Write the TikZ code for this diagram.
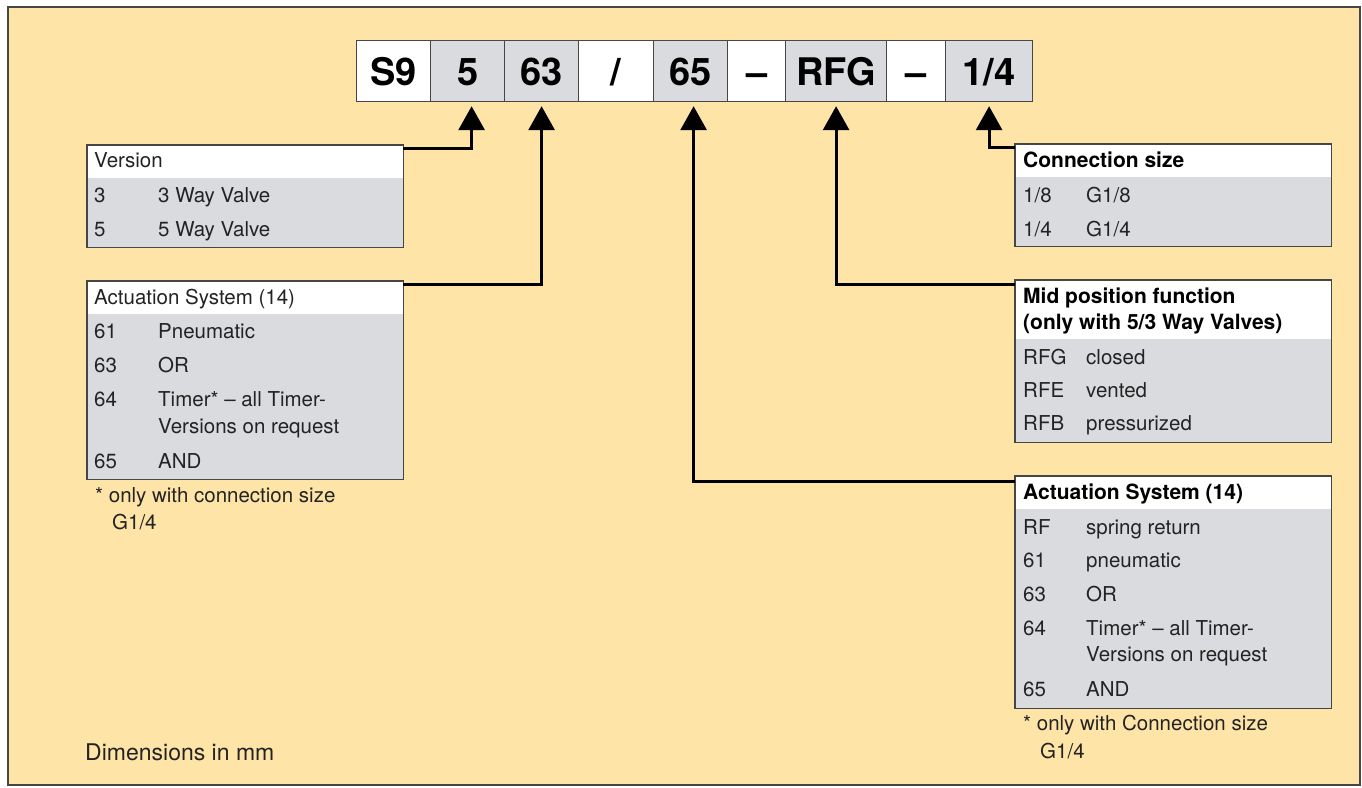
\documentclass[tikz,border=0pt]{standalone}
\usepackage{fontspec}
\setmainfont{TeX Gyre Heros}
\usetikzlibrary{arrows.meta,calc}
\definecolor{bgc}{RGB}{255,228,168}
\definecolor{cellg}{RGB}{218,219,222}
\definecolor{boxl}{RGB}{70,70,70}
\definecolor{txtc}{RGB}{35,35,35}
\newcommand\tablebox[5]{%
  \node[tbl, minimum height=#4pt] (#1) at (#2,#3) {};
  \fill[white] (#1.north west) rectangle ($(#1.north east)+(0,#5)$);
  \draw[boxl, line width=1.5pt] (#1.north west) rectangle (#1.south east);}
\begin{document}
\begin{tikzpicture}[x=1pt,y=-1pt,
  codecell/.style={draw=boxl, line width=1.2pt, minimum height=61pt, inner sep=0pt,
    text height=28pt, text depth=0pt,
    font=\fontsize{38}{40}\selectfont\bfseries, text=black, anchor=north west},
  wcell/.style={codecell, fill=white},
  gcell/.style={codecell, fill=cellg},
  tbl/.style={fill=cellg, minimum width=316pt, inner sep=0pt, anchor=north west},
  txt/.style={anchor=base west, inner sep=0pt, font=\fontsize{20.5}{24}\selectfont, text=txtc},
  btxt/.style={txt, font=\fontsize{21}{24}\selectfont\bfseries, text=black},
  arr/.style={line width=3pt, -{Triangle[width=26pt,length=24pt]}, shorten >=4pt}
]
\useasboundingbox (0,0) rectangle (1362,787);
\draw[fill=bgc, draw=boxl, line width=1.5pt] (8,7) rectangle (1360,785);

% code bar
\node[wcell, minimum width=74pt] (cS9) at (356,40) {S9};
\node[gcell, minimum width=74pt] (c5) at (430,40) {5};
\node[gcell, minimum width=74pt] (c63) at (504,40) {63};
\node[wcell, minimum width=75pt] (csl) at (578,40) {/};
\node[gcell, minimum width=74pt] (c65) at (653,40) {65};
\node[wcell, minimum width=58pt] (cd1) at (727,40) {–};
\node[gcell, minimum width=101pt] (cRFG) at (785,40) {RFG};
\node[wcell, minimum width=59pt] (cd2) at (886,40) {–};
\node[gcell, minimum width=87pt] (c14) at (945,40) {1/4};

% tables
\tablebox{ver}{87}{145}{102}{33}
\tablebox{actl}{87}{281}{198}{33}
\tablebox{con}{1015}{144}{102}{33}
\tablebox{mid}{1015}{280}{162}{59}
\tablebox{actr}{1015}{476}{232}{33}

% Version
\node[txt] (verh) at (94,167) {Version};
\node[txt] (v3a) at (94,202) {3};
\node[txt] (v3b) at (158,202) {3 Way Valve};
\node[txt] (v5a) at (94,236) {5};
\node[txt] (v5b) at (158,236) {5 Way Valve};

% Actuation left
\node[txt] (alh) at (94,304) {Actuation System (14)};
\node[txt] (al1a) at (94,338) {61};
\node[txt] (al1b) at (158,338) {Pneumatic};
\node[txt] (al2a) at (94,372) {63};
\node[txt] (al2b) at (158,372) {OR};
\node[txt] (al3a) at (94,406) {64};
\node[txt] (al3b) at (158,406) {Timer* – all Timer-};
\node[txt] (al3c) at (158,433) {Versions on request};
\node[txt] (al4a) at (94,468) {65};
\node[txt] (al4b) at (158,468) {AND};
\node[txt] (fnl1) at (95,502) {* only with connection size};
\node[txt] (fnl2) at (112,529) {G1/4};

% Connection size
\node[btxt] (conh) at (1023,167) {Connection size};
\node[txt] (c1a) at (1023,202) {1/8};
\node[txt] (c1b) at (1086,202) {G1/8};
\node[txt] (c2a) at (1023,236) {1/4};
\node[txt] (c2b) at (1086,236) {G1/4};

% Mid position
\node[btxt] (midh1) at (1023,303) {Mid position function};
\node[btxt] (midh2) at (1023,329) {(only with 5/3 Way Valves)};
\node[txt] (m1a) at (1023,364) {RFG};
\node[txt] (m1b) at (1086,364) {closed};
\node[txt] (m2a) at (1023,397) {RFE};
\node[txt] (m2b) at (1086,397) {vented};
\node[txt] (m3a) at (1023,430) {RFB};
\node[txt] (m3b) at (1086,430) {pressurized};

% Actuation right
\node[btxt] (arh) at (1023,499) {Actuation System (14)};
\node[txt] (ar1a) at (1023,534) {RF};
\node[txt] (ar1b) at (1086,534) {spring return};
\node[txt] (ar2a) at (1023,567) {61};
\node[txt] (ar2b) at (1086,567) {pneumatic};
\node[txt] (ar3a) at (1023,601) {63};
\node[txt] (ar3b) at (1086,601) {OR};
\node[txt] (ar4a) at (1023,635) {64};
\node[txt] (ar4b) at (1086,635) {Timer* – all Timer-};
\node[txt] (ar4c) at (1086,661) {Versions on request};
\node[txt] (ar5a) at (1023,696) {65};
\node[txt] (ar5b) at (1086,696) {AND};
\node[txt] (fnr1) at (1023,730) {* only with Connection size};
\node[txt] (fnr2) at (1040,758) {G1/4};

\node[txt, font=\fontsize{23}{26}\selectfont] (dim) at (85,760) {Dimensions in mm};

% connectors
\draw[arr] ($(ver.north east)+(0,3)$) -| ([xshift=4pt]c5.south);
\draw[arr] ($(actl.north east)+(0,3)$) -| (c63.south);
\draw[arr] ($(actr.north west)+(0,5)$) -| ([xshift=3pt]c65.south);
\draw[arr] ($(mid.north west)+(0,4)$) -| (cRFG.south);
\draw[arr] ($(con.north west)+(0,3)$) -| (c14.south);
\end{tikzpicture}
\end{document}
